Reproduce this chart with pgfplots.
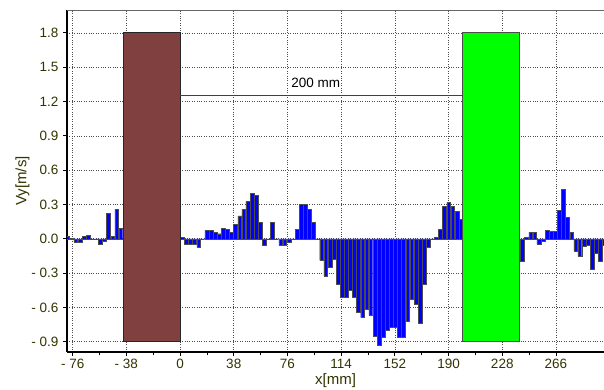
\documentclass[border=0pt]{standalone}
\usepackage{fontspec}
\setmainfont{Liberation Sans}
\usepackage{pgfplots}
\usepackage{pgfplotstable}
\pgfplotsset{compat=1.18}
\definecolor{lbl}{RGB}{51,51,0}
\definecolor{brownrect}{RGB}{128,64,64}
\definecolor{greenrect}{RGB}{0,255,0}
\definecolor{barblue}{RGB}{0,0,255}

\pgfplotstableread{
x y
-79.6 0.02
-76.7 0.004
-73.8 -0.03
-70.9 -0.03
-68.0 0.02
-65.1 0.03
-62.2 -0.005
-59.3 0.0
-56.4 -0.05
-53.5 -0.02
-50.6 0.22
-47.7 0.02
-44.8 0.26
-41.9 0.09
1.6 0.01
4.5 -0.044
7.4 -0.044
10.3 -0.044
13.2 -0.076
16.1 0.0
19.0 0.073
21.9 0.073
24.8 0.058
27.7 0.044
30.6 0.094
33.5 0.082
36.4 0.055
39.3 0.123
42.2 0.20
45.1 0.26
48.0 0.33
50.9 0.395
53.8 0.38
56.7 0.146
59.6 -0.06
62.5 0.0
65.4 0.143
68.3 0.0
71.2 -0.058
74.1 -0.053
77.0 -0.032
79.9 0.0
82.8 0.085
85.7 0.30
88.6 0.30
91.5 0.26
94.4 0.143
97.3 -0.005
100.2 -0.19
103.1 -0.324
106.0 -0.25
108.9 -0.178
111.8 -0.40
114.7 -0.51
117.6 -0.51
120.5 -0.45
123.4 -0.51
126.3 -0.64
129.2 -0.69
132.1 -0.62
135.0 -0.67
137.9 -0.855
140.8 -0.93
143.7 -0.86
146.6 -0.80
149.5 -0.77
152.4 -0.77
155.3 -0.86
158.2 -0.865
161.1 -0.72
164.0 -0.525
166.9 -0.57
169.8 -0.74
172.7 -0.40
175.6 -0.073
178.5 0.0
181.4 0.012
184.3 0.085
187.2 0.283
190.1 0.318
193.0 0.283
195.9 0.24
198.8 0.172
242.3 -0.20
245.2 0.01
248.1 0.058
251.0 0.058
253.9 -0.047
256.8 -0.023
259.7 0.073
262.6 0.064
265.5 0.064
268.4 0.25
271.3 0.43
274.2 0.19
277.1 0.058
280.0 -0.105
282.9 -0.155
285.8 -0.067
288.7 -0.053
291.6 -0.27
294.5 -0.13
297.4 -0.20
300.3 -0.06
}\bars

\begin{document}
\begin{tikzpicture}
\begin{axis}[
  name=ax,
  scale only axis, width=537pt, height=342pt,
  xmin=-80, xmax=300, ymin=-0.99, ymax=2.0,
  axis x line*=bottom, axis y line*=left,
  axis line style={black, line width=1.5pt},
  xtick={-76,-38,0,38,76,114,152,190,228,266},
  xticklabels={- 76,- 38,0,38,76,114,152,190,228,266},
  ytick={-0.9,-0.6,-0.3,0,0.3,0.6,0.9,1.2,1.5,1.8},
  yticklabels={- 0.9,- 0.6,- 0.3,0.0,0.3,0.6,0.9,1.2,1.5,1.8},
  minor x tick num=1,
  tick align=outside,
  major tick length=4pt, minor tick length=3pt,
  tick style={black, line width=0.8pt},
  grid=major,
  major grid style={dotted, black!70, line width=0.6pt},
  ticklabel style={font=\fontsize{13.5}{15}\selectfont, text=lbl},
  xticklabel style={yshift=0pt},
  yticklabel style={xshift=-1pt},
  xlabel={x[mm]}, ylabel={Vy[m/s]},
  label style={font=\fontsize{15}{17}\selectfont, text=lbl},
  xlabel style={yshift=2pt},
  ylabel style={yshift=-5pt},
]
\draw[black!60, line width=0.6pt] (rel axis cs:0,1) -- (rel axis cs:1,1);
\addplot[ybar, bar width=2.7, fill=barblue, draw=black!70, line width=0.45pt] table[x=x,y=y]{\bars};
\addplot[fill=brownrect, draw=black!85, line width=0.8pt] coordinates {(-40,-0.9) (0,-0.9) (0,1.8) (-40,1.8) (-40,-0.9)};
\addplot[fill=greenrect, draw=black!70, line width=0.8pt] coordinates {(200,-0.9) (240,-0.9) (240,1.8) (200,1.8) (200,-0.9)};
\addplot[black!75, line width=0.7pt] coordinates {(0,1.25) (200,1.25)};
\node[font=\fontsize{13.5}{15}\selectfont, text=black] at (axis cs:96,1.36) {200 mm};
\end{axis}
\pgfresetboundingbox
\path ([shift={(-67pt,-38pt)}]ax.south west) rectangle ([shift={(0pt,10pt)}]ax.north east);
\end{tikzpicture}
\end{document}
